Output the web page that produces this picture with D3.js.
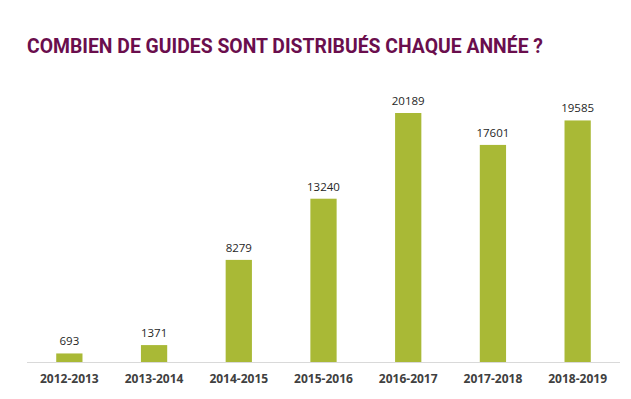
<!DOCTYPE html>
<html>
<head>
<meta charset="utf-8">
<script src="https://cdn.jsdelivr.net/npm/d3@7"></script>
<style>
  body { margin: 0; background: #fff; }
</style>
</head>
<body>
<div id="chart"></div>
<script>
// Data
const seasons = ["2012-2013", "2013-2014", "2014-2015", "2015-2016", "2016-2017", "2017-2018", "2018-2019"];
const guides = [693, 1371, 8279, 13240, 20189, 17601, 19585];

const width = 631, height = 399;
const margin = { top: 113, right: 11, bottom: 37, left: 27 };

const svg = d3.select("#chart")
    .append("svg")
    .attr("width", width)
    .attr("height", height);

// Title (condensed look via textLength)
svg.append("text")
    .attr("x", 27)
    .attr("y", 53)
    .attr("fill", "#6a0e4d")
    .style("font-family", "Roboto, 'Liberation Sans', sans-serif")
    .style("font-weight", "bold")
    .style("font-size", "19.5px")
    .attr("textLength", 516)
    .attr("lengthAdjust", "spacingAndGlyphs")
    .text("COMBIEN DE GUIDES SONT DISTRIBUÉS CHAQUE ANNÉE ?");

const xScale = d3.scaleBand()
    .domain(seasons)
    .range([margin.left, width - margin.right])
    .paddingInner(0.69)
    .paddingOuter(0.345);

const yScale = d3.scaleLinear()
    .domain([0, 20189])
    .range([height - margin.bottom, margin.top]);

// Baseline
svg.append("line")
    .attr("x1", margin.left)
    .attr("x2", width - margin.right)
    .attr("y1", yScale(0) + 0.5)
    .attr("y2", yScale(0) + 0.5)
    .attr("stroke", "#d9d9d9")
    .attr("stroke-width", 1);

// Bars
svg.selectAll(".bar")
    .data(guides)
    .enter()
    .append("rect")
    .attr("class", "bar")
    .attr("x", (d, i) => xScale(seasons[i]))
    .attr("y", (d) => yScale(d))
    .attr("width", xScale.bandwidth())
    .attr("height", (d) => yScale(0) - yScale(d))
    .attr("fill", "#a9b936");

// Value labels
svg.selectAll(".value")
    .data(guides)
    .enter()
    .append("text")
    .attr("class", "value")
    .attr("x", (d, i) => xScale(seasons[i]) + xScale.bandwidth() / 2)
    .attr("y", (d) => yScale(d) - 8)
    .attr("text-anchor", "middle")
    .attr("fill", "#262626")
    .style("font-family", "'Open Sans', 'Liberation Sans', sans-serif")
    .style("font-size", "11.5px")
    .text((d) => d);

// Category labels
svg.selectAll(".cat")
    .data(seasons)
    .enter()
    .append("text")
    .attr("class", "cat")
    .attr("x", (d) => xScale(d) + xScale.bandwidth() / 2)
    .attr("y", yScale(0) + 21)
    .attr("text-anchor", "middle")
    .attr("fill", "#404040")
    .style("font-family", "'Open Sans', 'Liberation Sans', sans-serif")
    .style("font-weight", "bold")
    .style("font-size", "12px")
    .text((d) => d);
</script>
</body>
</html>
